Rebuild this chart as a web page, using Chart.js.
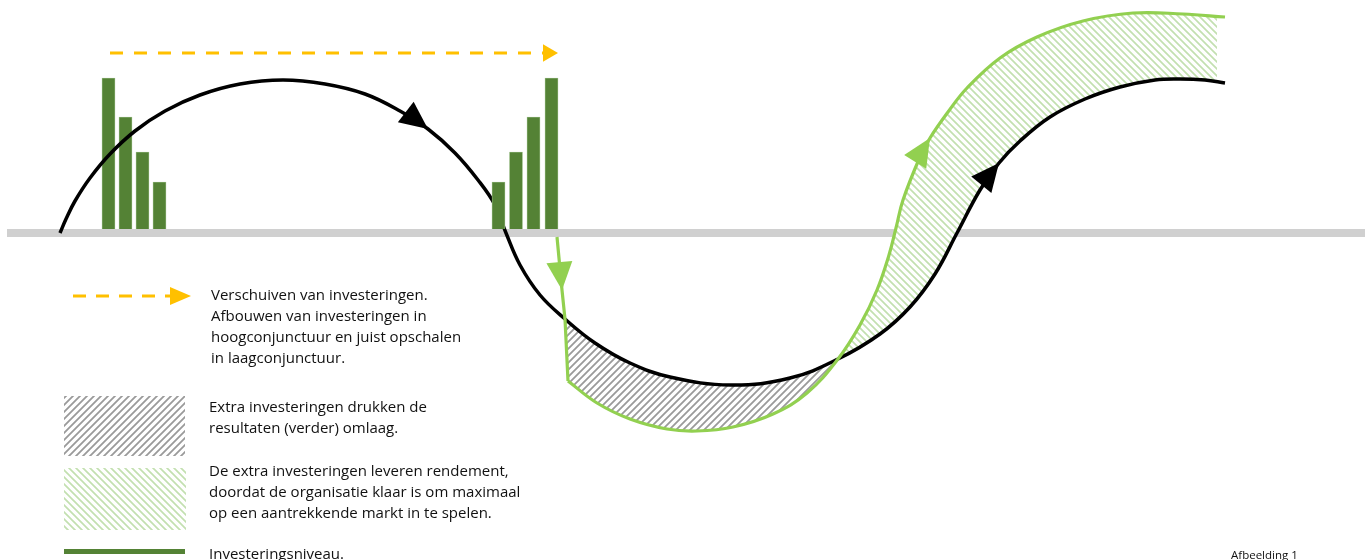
<!DOCTYPE html>
<html>
<head>
<meta charset="utf-8">
<script src="https://cdn.jsdelivr.net/npm/chart.js@4.4.1/dist/chart.umd.min.js"></script>
<style>
  html, body { margin: 0; padding: 0; background: #fff; }
  #wrap { width: 1370px; height: 560px; }
</style>
</head>
<body>
<div id="wrap"><canvas id="grafiek" width="1370" height="560"></canvas></div>
<script>
const ctx = document.getElementById('grafiek');

// conjunctuur (zwarte lijn): x = tijd, y = niveau t.o.v. de trendlijn
const conjunctuurX = [60, 66, 75, 90, 110, 135, 165, 200, 240, 283, 325, 365, 400, 428, 455, 478, 495, 506, 520, 540, 565, 595, 630, 670, 731, 790, 838, 880, 910, 935, 957, 980, 999, 1020, 1050, 1085, 1120, 1155, 1180, 1205, 1225];
const conjunctuurY = [0, 14, 32, 55, 79, 102, 122, 138, 149, 153, 149, 139, 122, 104, 80, 53, 28, 0, -32, -62, -86, -110, -130, -144, -152, -145, -126, -101, -74, -41, 0, 43, 70, 92, 116, 134, 146, 153, 154, 153, 150];

// resultaat met anticyclisch investeren (groene lijn), eerst de val, dan de curve
const valX = [557, 562, 565, 568];
const valY = [-4, -57, -86, -148];
const resultaatX = [568, 597, 630, 667, 697, 733, 773, 807, 838, 860, 877, 889, 896, 903, 920, 930, 948, 967, 1000, 1037, 1083, 1133, 1183, 1225];
const resultaatY = [-148, -170, -186, -196, -198, -194, -181, -160, -126, -92, -57, -22, 5, 33, 76, 95, 121, 145, 175, 196, 212, 220, 219, 216];

// investeringsniveau (staafjes)
const afbouwX = [108.5, 125.5, 142.5, 159.5];
const afbouwY = [155, 116, 81, 51];
const opschaalX = [498.5, 516, 533.5, 551.5];
const opschaalY = [51, 81, 116, 155];

// verschuiven van investeringen (gestippelde pijl)
const verschuivenX = [110, 548];
const verschuivenY = [180, 180];

// trendlijn
const trendX = [7, 1365];
const trendY = [0, 0];

// pijlpunten op de lijnen (x-waarden)
const pijlenZwart = [428, 999];
const pijlenVal = [562];
const pijlenResultaat = [930];

// grenzen van de arceringen
const dalStart = 565;
const kruispunt = 838;
const arceringEind = 1217;

const punten = (xs, ys) => xs.map((x, i) => ({ x: x, y: ys[i] }));

function arcering(kleur, richting, dikte) {
    const s = 7;
    const c = document.createElement('canvas');
    c.width = s; c.height = s;
    const g = c.getContext('2d');
    g.strokeStyle = kleur;
    g.lineWidth = dikte;
    g.beginPath();
    if (richting === '/') {
        g.moveTo(0, s); g.lineTo(s, 0);
        g.moveTo(-1, 1); g.lineTo(1, -1);
        g.moveTo(s - 1, s + 1); g.lineTo(s + 1, s - 1);
    } else {
        g.moveTo(0, 0); g.lineTo(s, s);
        g.moveTo(-1, s - 1); g.lineTo(1, s + 1);
        g.moveTo(s - 1, -1); g.lineTo(s + 1, 1);
    }
    g.stroke();
    return g.createPattern(c, 'repeat');
}
const grijsArcering = arcering('#9a9a9a', '/', 1.8);
const groenArcering = arcering('#c3e0b0', '\\', 1.7);

const GROEN = '#92d050';
const DONKERGROEN = '#548235';
const ORANJE = '#ffc000';

function spoor(c, pts, van, tot, recht) {
    const stap = tot > van ? 1 : -1;
    for (let i = van + stap; stap > 0 ? i <= tot : i >= tot; i += stap) {
        const v = pts[i - stap], p = pts[i];
        if (recht) c.lineTo(p.x, p.y);
        else if (stap > 0) c.bezierCurveTo(v.cp2x, v.cp2y, p.cp1x, p.cp1y, p.x, p.y);
        else c.bezierCurveTo(v.cp1x, v.cp1y, p.cp2x, p.cp2y, p.x, p.y);
    }
}

const arceringPlugin = {
    id: 'arceringen',
    afterDatasetDraw(chart, args) {
        if (args.index !== 6) return;
        const c = chart.ctx;
        const zw = chart.getDatasetMeta(4), val = chart.getDatasetMeta(1), res = chart.getDatasetMeta(2);
        zw.dataset.updateControlPoints(chart.chartArea, 'x');
        res.dataset.updateControlPoints(chart.chartArea, 'x');
        const z = zw.data, v = val.data, r = res.data;
        const zStart = conjunctuurX.indexOf(dalStart), zKruis = conjunctuurX.indexOf(kruispunt);
        const vStart = valX.indexOf(dalStart), rKruis = resultaatX.indexOf(kruispunt);

        // extra investeringen drukken de resultaten
        c.save();
        c.beginPath();
        c.moveTo(v[vStart].x, v[vStart].y);
        spoor(c, v, vStart, v.length - 1, true);
        spoor(c, r, 0, rKruis, false);
        c.lineTo(z[zKruis].x, z[zKruis].y);
        spoor(c, z, zKruis, zStart, false);
        c.closePath();
        c.fillStyle = grijsArcering;
        c.fill();
        c.restore();

        // extra investeringen leveren rendement
        c.save();
        const xEind = chart.scales.x.getPixelForValue(arceringEind);
        c.beginPath();
        c.rect(0, 0, xEind, chart.height);
        c.clip();
        c.beginPath();
        c.moveTo(r[rKruis].x, r[rKruis].y);
        spoor(c, r, rKruis, r.length - 1, false);
        c.lineTo(z[z.length - 1].x, z[z.length - 1].y);
        spoor(c, z, z.length - 1, zKruis, false);
        c.closePath();
        c.fillStyle = '#fff';
        c.fill();
        c.fillStyle = groenArcering;
        c.fill();
        c.restore();
    }
};

function pijlpunt(c, p, dx, dy, kleur) {
    const l = Math.hypot(dx, dy) || 1;
    const ux = dx / l, uy = dy / l;
    const lengte = 28, breedte = 26;
    const bx = p.x - ux * lengte, by = p.y - uy * lengte;
    c.beginPath();
    c.moveTo(p.x, p.y);
    c.lineTo(bx - uy * breedte / 2, by + ux * breedte / 2);
    c.lineTo(bx + uy * breedte / 2, by - ux * breedte / 2);
    c.closePath();
    c.fillStyle = kleur;
    c.fill();
}

const pijlPlugin = {
    id: 'pijlen',
    afterDatasetsDraw(chart) {
        const c = chart.ctx;
        const zet = (metaIndex, xs, waar, kleur, recht) => {
            const pts = chart.getDatasetMeta(metaIndex).data;
            waar.forEach(x => {
                const i = xs.indexOf(x);
                const p = pts[i];
                const q = pts[i - 1], n = pts[i + 1];
                if (recht || !n) pijlpunt(c, p, p.x - q.x, p.y - q.y, kleur);
                else pijlpunt(c, p, n.x - q.x, n.y - q.y, kleur);
            });
        };
        c.save();
        zet(4, conjunctuurX, pijlenZwart, '#000', false);
        zet(1, valX, pijlenVal, GROEN, true);
        zet(2, resultaatX, pijlenResultaat, GROEN, false);
        c.restore();
    }
};

const legendaPlugin = {
    id: 'legenda',
    afterDraw(chart) {
        const c = chart.ctx;
        c.save();
        // gestippelde pijl
        c.strokeStyle = ORANJE;
        c.lineWidth = 3;
        c.setLineDash([13, 10]);
        c.beginPath();
        c.moveTo(73, 296);
        c.lineTo(170, 296);
        c.stroke();
        c.setLineDash([]);
        c.fillStyle = ORANJE;
        c.beginPath();
        c.moveTo(191, 296);
        c.lineTo(170, 287);
        c.lineTo(170, 305);
        c.closePath();
        c.fill();
        // arceringen
        c.fillStyle = grijsArcering;
        c.fillRect(64, 396, 121, 60);
        c.fillStyle = groenArcering;
        c.fillRect(64, 468, 122, 62);
        // investeringsniveau
        c.fillStyle = DONKERGROEN;
        c.fillRect(64, 549, 121, 5);

        c.fillStyle = '#111';
        c.font = '15px "Open Sans"';
        c.textBaseline = 'middle';
        const regels = [
            [211, 296, 'Verschuiven van investeringen.'],
            [211, 317, 'Afbouwen van investeringen in'],
            [211, 338, 'hoogconjunctuur en juist opschalen'],
            [211, 359, 'in laagconjunctuur.'],
            [209, 408, 'Extra investeringen drukken de'],
            [209, 429, 'resultaten (verder) omlaag.'],
            [209, 472, 'De extra investeringen leveren rendement,'],
            [209, 493, 'doordat de organisatie klaar is om maximaal'],
            [209, 514, 'op een aantrekkende markt in te spelen.'],
            [209, 555, 'Investeringsniveau.']
        ];
        regels.forEach(r => c.fillText(r[2], r[0], r[1]));
        c.font = '11.5px "Open Sans"';
        c.textBaseline = 'top';
        c.fillText('Afbeelding 1', 1231, 550);
        c.restore();
    }
};

new Chart(ctx, {
    type: 'line',
    data: {
        datasets: [
            {
                // 0 verschuiven
                data: punten(verschuivenX, verschuivenY),
                borderColor: ORANJE,
                borderWidth: 3,
                borderDash: [13, 11],
                pointRadius: [0, 10],
                pointStyle: 'triangle',
                rotation: 90,
                pointBackgroundColor: ORANJE,
                pointBorderWidth: 0,
                order: 1
            },
            {
                // 1 val
                data: punten(valX, valY),
                borderColor: GROEN,
                borderWidth: 3.2,
                tension: 0,
                pointRadius: 0,
                order: 2
            },
            {
                // 2 resultaat
                data: punten(resultaatX, resultaatY),
                borderColor: GROEN,
                borderWidth: 3.2,
                tension: 0.4,
                pointRadius: 0,
                order: 2
            },
            {
                // 3 opschalen
                type: 'bar',
                data: punten(opschaalX, opschaalY),
                backgroundColor: DONKERGROEN,
                borderColor: '#8fb47a',
                borderWidth: 0.8,
                barThickness: 13,
                grouped: false,
                base: 4,
                order: 4
            },
            {
                // 4 conjunctuur
                data: punten(conjunctuurX, conjunctuurY),
                borderColor: '#000',
                borderWidth: 3.5,
                tension: 0.4,
                pointRadius: 0,
                order: 5
            },
            {
                // 5 afbouwen
                type: 'bar',
                data: punten(afbouwX, afbouwY),
                backgroundColor: DONKERGROEN,
                borderColor: '#8fb47a',
                borderWidth: 0.8,
                barThickness: 13,
                grouped: false,
                base: 4,
                order: 9
            },
            {
                // 6 trend
                data: punten(trendX, trendY),
                borderColor: '#d0d0d0',
                borderWidth: 8,
                borderCapStyle: 'butt',
                pointRadius: 0,
                order: 10
            }
        ]
    },
    options: {
        responsive: false,
        animation: false,
        devicePixelRatio: 1,
        layout: { padding: 0, autoPadding: false },
        plugins: {
            legend: { display: false },
            tooltip: { enabled: false }
        },
        scales: {
            x: { type: 'linear', min: 0, max: 1370, offset: false, display: false },
            y: { type: 'linear', min: -327, max: 233, display: false }
        }
    },
    plugins: [arceringPlugin, pijlPlugin, legendaPlugin]
});
</script>
</body>
</html>
